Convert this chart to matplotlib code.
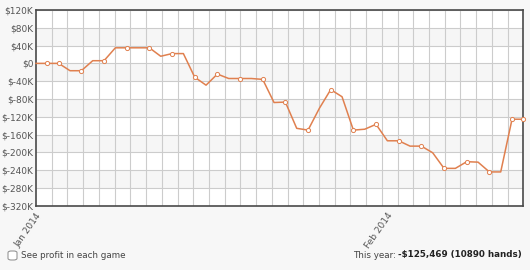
import numpy as np
import pandas as pd
import matplotlib
matplotlib.use("Agg")
import matplotlib.pyplot as plt
import matplotlib.dates as mdates
from matplotlib.patches import FancyBboxPatch

# Данные (тысячи $ по дням)
dates = pd.date_range("2014-01-01", periods=44, freq="D")
profit_k = [0, 0, 0, -16.5, -16.5, 6, 6, 35, 35, 35, 35, 16, 22, 22,
            -31, -49, -24, -34, -34, -34, -36, -88, -87, -146, -150, -101,
            -59, -75, -150, -148, -137, -174, -174, -186, -186, -201, -236,
            -236, -221, -222, -244, -244, -125.5, -125.5]
marked = [1, 2] + list(range(4, 43, 2)) + [43]
y_ticks = list(range(120, -321, -40))
x_ticks = ["2014-01-01", "2014-02-01"]
x_labels = ["Jan 2014", "Feb 2014"]
year_total = "-$125,469 (10890 hands)"

fig = plt.figure(figsize=(5.3, 2.7), dpi=100, facecolor="#f7f7f7")
ax = fig.add_axes([0.068, 0.238, 0.9195, 0.725])
ax.set_facecolor("white")

# полосы
for top in range(80, -321, -80):
    ax.axhspan(top - 40, top, color="#f6f6f6", zorder=0, lw=0)

ax.plot(dates, profit_k, color="#e0804f", lw=1.1, marker="o", ms=3.0,
        mfc="white", mec="#e0804f", mew=0.7, markevery=marked, zorder=3,
        clip_on=False)

ax.set_ylim(-320, 120)
ax.set_yticks(y_ticks)
ax.set_yticklabels([f"${v}K" if v != 0 else "$0" for v in y_ticks])
x0, x1 = mdates.date2num(dates[0]), mdates.date2num(dates[-1])
ax.set_xlim(x0, x1)
ax.set_xticks(mdates.datestr2num(x_ticks))
ax.set_xticklabels(x_labels, rotation=55, ha="right", rotation_mode="anchor")
ax.set_xticks(np.linspace(x0, x1, 32), minor=True)
ax.grid(True, which="minor", axis="x", color="#cccccc", lw=0.8)
ax.grid(True, which="major", axis="y", color="#cccccc", lw=0.8)
ax.tick_params(which="both", length=0)
ax.tick_params(axis="y", labelsize=6.5, labelcolor="#555555", pad=2)
ax.tick_params(axis="x", labelsize=6.5, labelcolor="#555555", pad=4)
for s in ax.spines.values():
    s.set_color("#4a4a4a")
    s.set_linewidth(1.2)
ax.set_axisbelow(True)

# подписи внизу
box = FancyBboxPatch((8 / 530, 1 - 260 / 270), 9 / 530, 9 / 270,
                     boxstyle="round,pad=0,rounding_size=0.006",
                     transform=fig.transFigure, fc="white", ec="#888888", lw=0.7)
fig.patches.append(box)
fig.text(21 / 530, 1 - 255 / 270, "See profit in each game", fontsize=6.3,
         color="#444444", va="center")
t = fig.text(522 / 530, 1 - 255 / 270, year_total, fontsize=6.3,
             color="#222222", va="center", ha="right", weight="bold")
fig.canvas.draw()
bb = t.get_window_extent()
fig.text(bb.x0 - 2, bb.y0 + bb.height / 2, "This year:", fontsize=6.3,
         color="#444444", va="center", ha="right", transform=None)

plt.savefig("out.png", dpi=100, facecolor=fig.get_facecolor())
